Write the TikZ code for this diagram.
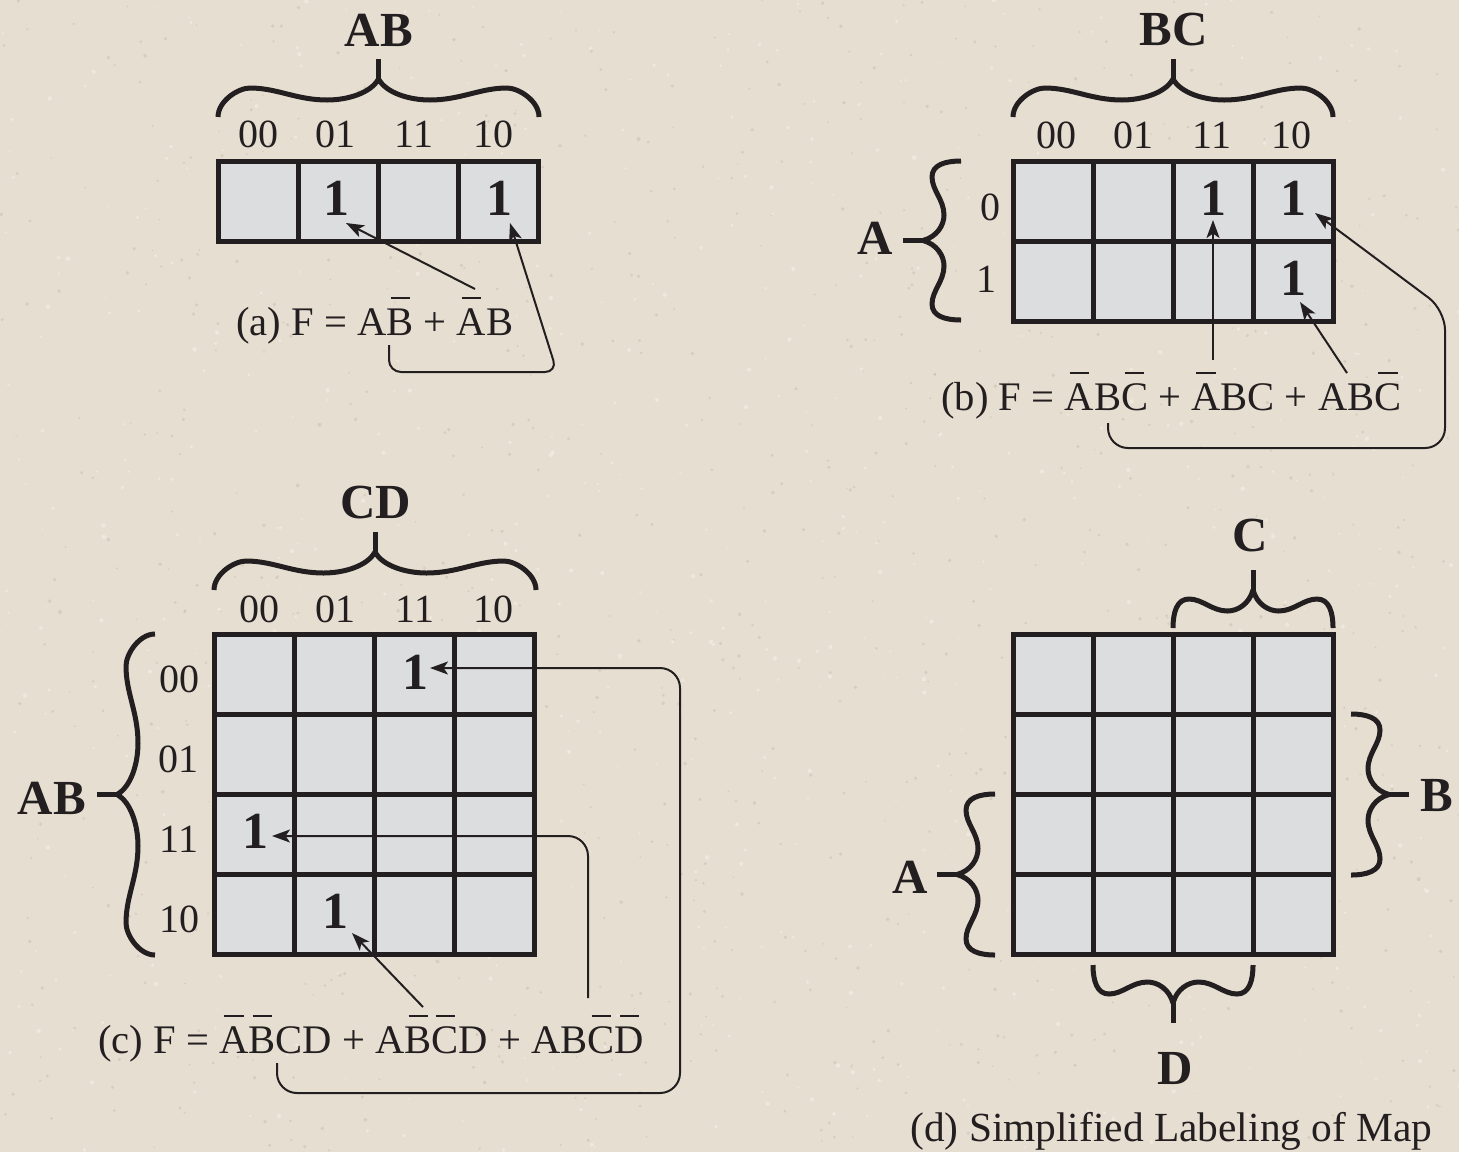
\documentclass[tikz,border=0pt]{standalone}
\usepackage{fontspec}
\setmainfont{Liberation Serif}
\usetikzlibrary{arrows.meta,calc}

\definecolor{paper}{RGB}{230,222,209}
\definecolor{paperdark}{RGB}{196,186,172}
\definecolor{paperlight}{RGB}{244,240,232}
\definecolor{cellgray}{RGB}{220,221,223}
\definecolor{ink}{RGB}{35,31,32}

% complemented variable: a short bar centred over the letter
\newsavebox\barbox
\newcommand\nb[1]{\sbox\barbox{#1}\rlap{\hbox to \wd\barbox{\hss\rule[0.88em]{0.48em}{0.06em}\hss}}\usebox\barbox}

% filled Karnaugh map: top-left corner, columns, rows (cells of 80 units)
\newcommand\kmapcells[4]{%
  \fill[cellgray] (#1,#2) rectangle ++(#3*80,#4*80);
  \foreach \c in {1,...,#3}{\foreach \r in {1,...,#4}{%
    \draw[cellline] ($(#1,#2)+(\c*80-80,\r*80-80)$) rectangle ++(80,80);}}}

\tikzset{
  cellline/.style={line width=2.5pt, draw=ink, line join=miter},
  bracestroke/.style={line width=2.5pt, draw=ink, line join=round},
  biglabel/.style={font=\fontsize{24.5}{28}\selectfont\bfseries, text=ink, inner sep=0},
  bitlabel/.style={font=\fontsize{20}{24}\selectfont, text=ink, inner sep=0},
  onebit/.style={font=\fontsize{26}{30}\selectfont\bfseries, text=ink, inner sep=0},
  figcap/.style={font=\fontsize{20.3}{24}\selectfont, text=ink, inner sep=0, anchor=base west},
  conn/.style={line width=1pt, draw=ink, -{Stealth[length=9pt,width=6.5pt,inset=2.2pt]}},
  pics/kbrace/.style={code={
    \pgfmathsetmacro\bw{#1}
    \pgfmathsetmacro\bh{\bw/2}
    \pgfmathsetmacro\bc{0.1*\bw}
    \pgfmathsetmacro\bs{0.34*\bw}
    \pgfmathsetmacro\ba{\bc+0.35*(\bs-\bc)}
    \pgfmathsetmacro\bb{\bs-0.4*(\bs-\bc)}
    \pgfmathsetmacro\bd{\bs+0.4*(\bh-\bs)}
    \pgfmathsetmacro\be{\bh-0.15*(\bh-\bs)}
    \draw[bracestroke] (0,0) .. controls (0,-16) and ({\bc-12},-29) .. (\bc,-29)
      .. controls (\ba,-29) and (\bb,-17) .. (\bs,-17)
      .. controls (\bd,-17) and (\be,-24) .. (\bh,-38)
      .. controls ({\bw-\be},-24) and ({\bw-\bd},-17) .. ({\bw-\bs},-17)
      .. controls ({\bw-\bb},-17) and ({\bw-\ba},-29) .. ({\bw-\bc},-29)
      .. controls ({\bw-\bc+12},-29) and (\bw,-16) .. (\bw,0);
    \draw[bracestroke] (\bh,-38) -- (\bh,-58);
  }},
}

\begin{document}
\begin{tikzpicture}[x=0.5pt,y=-0.5pt]
\fill[paper] (0,0) rectangle (1459,1152);
\useasboundingbox (0,0) rectangle (1459,1152);

% speckled paper texture
\pgfmathsetseed{4217}
\foreach \i in {1,...,900}{%
  \pgfmathsetmacro\px{rnd*1459}
  \pgfmathsetmacro\py{rnd*1152}
  \pgfmathsetmacro\pr{0.8+rnd*1.2}
  \fill[paperdark, opacity=0.45] (\px,\py) circle[radius=\pr];
}
\foreach \i in {1,...,700}{%
  \pgfmathsetmacro\px{rnd*1459}
  \pgfmathsetmacro\py{rnd*1152}
  \pgfmathsetmacro\pr{0.8+rnd*1.4}
  \fill[paperlight, opacity=0.6] (\px,\py) circle[radius=\pr];
}

% ---------------- (a) two-variable map ----------------
\kmapcells{218}{161}{4}{1}
\pic at (218,117) {kbrace=321};
\node[biglabel] (aAB) at (379,30) {AB};
\node[bitlabel] (ac1) at (258,134) {00};
\node[bitlabel] (ac2) at (335,134) {01};
\node[bitlabel] (ac3) at (414,134) {11};
\node[bitlabel] (ac4) at (493,134) {10};
\node[onebit] (a01) at (336,198) {1};
\node[onebit] (a10) at (499,198) {1};
\node[figcap] (acap) at (236,335) {(a) F = A\nb{B} + \nb{A}B};
\coordinate (aS1) at (475,289);
\coordinate (aS2) at (389,345);
\draw[conn] (aS1) -- ($(a01)+(10,25)$);
\draw[conn, rounded corners=6pt] (aS2) -- ++(0,27) -- ++(168,0) -- ($(a10)+(11,25)$);

% ---------------- (b) three-variable map ----------------
\kmapcells{1013}{161}{4}{2}
\pic at (1013,117) {kbrace=320};
\pic[rotate=90] at (961,320) {kbrace=159};
\node[biglabel] (bBC) at (1174,30) {BC};
\node[biglabel] (bA) at (875,238) {A};
\node[bitlabel] (bc1) at (1056,135) {00};
\node[bitlabel] (bc2) at (1133,135) {01};
\node[bitlabel] (bc3) at (1212,135) {11};
\node[bitlabel] (bc4) at (1291,135) {10};
\node[bitlabel] (br0) at (990,207) {0};
\node[bitlabel] (br1) at (986,279) {1};
\node[onebit] (b011) at (1213,198) {1};
\node[onebit] (b010) at (1293,198) {1};
\node[onebit] (b110) at (1293,278) {1};
\node[figcap] (bcap) at (941,410) {(b) F = \nb{A}B\nb{C} + \nb{A}BC + AB\nb{C}};
\coordinate (bS1) at (1213,360);
\coordinate (bS2) at (1347,373);
\coordinate (bS3) at (1108,423);
\draw[conn] (bS1) -- ($(b011)+(0,22)$);
\draw[conn] (bS2) -- ($(b110)+(7,24)$);
\draw[conn, rounded corners=10pt] (bS3) -- ++(0,25) -- ++(337,0) -- ++(0,-138) -- ($(b010)+(22,15)$);

% ---------------- (c) four-variable map ----------------
\kmapcells{214}{634}{4}{4}
\pic at (214,590) {kbrace=322};
\pic[rotate=90] at (155,955) {kbrace=321};
\node[biglabel] (cCD) at (376,503) {CD};
\node[biglabel] (cAB) at (52,798) {AB};
\node[bitlabel] (cc1) at (259,609) {00};
\node[bitlabel] (cc2) at (335,609) {01};
\node[bitlabel] (cc3) at (415,609) {11};
\node[bitlabel] (cc4) at (493,609) {10};
\node[bitlabel] (cr1) at (179,679) {00};
\node[bitlabel] (cr2) at (178,759) {01};
\node[bitlabel] (cr3) at (179,839) {11};
\node[bitlabel] (cr4) at (179,919) {10};
\node[onebit] (c0011) at (415,672) {1};
\node[onebit] (c1100) at (255,831) {1};
\node[onebit] (c1001) at (335,911) {1};
\node[figcap] (ccap) at (98,1053) {(c) F = \nb{A}\nb{B}CD + A\nb{B}\nb{C}D + AB\nb{C}\nb{D}};
\coordinate (cS1) at (277,1063);
\coordinate (cS2) at (588,998);
\coordinate (cS3) at (423,1007);
\draw[conn, rounded corners=10pt] (cS1) -- ++(0,30) -- ++(403,0) -- ++(0,-425) -- ($(c0011)+(15,-4)$);
\draw[conn, rounded corners=10pt] (cS2) -- ++(0,-162) -- ($(c1100)+(17,5)$);
\draw[conn] (cS3) -- ($(c1001)+(17,22)$);

% ---------------- (d) simplified labeling ----------------
\kmapcells{1013}{634}{4}{4}
\pic at (1173,628) {kbrace=160};
\pic[rotate=-90] at (1351,714) {kbrace=161};
\pic[rotate=90] at (995,955) {kbrace=161};
\pic[rotate=180] at (1253,965) {kbrace=160};
\node[biglabel] (dC) at (1250,536) {C};
\node[biglabel] (dB) at (1437,796) {B};
\node[biglabel] (dA) at (910,877) {A};
\node[biglabel] (dD) at (1175,1068) {D};
\node[figcap, font=\fontsize{20.7}{24}\selectfont] (dcap) at (910,1141) {(d) Simplified Labeling of Map};

\end{tikzpicture}
\end{document}
